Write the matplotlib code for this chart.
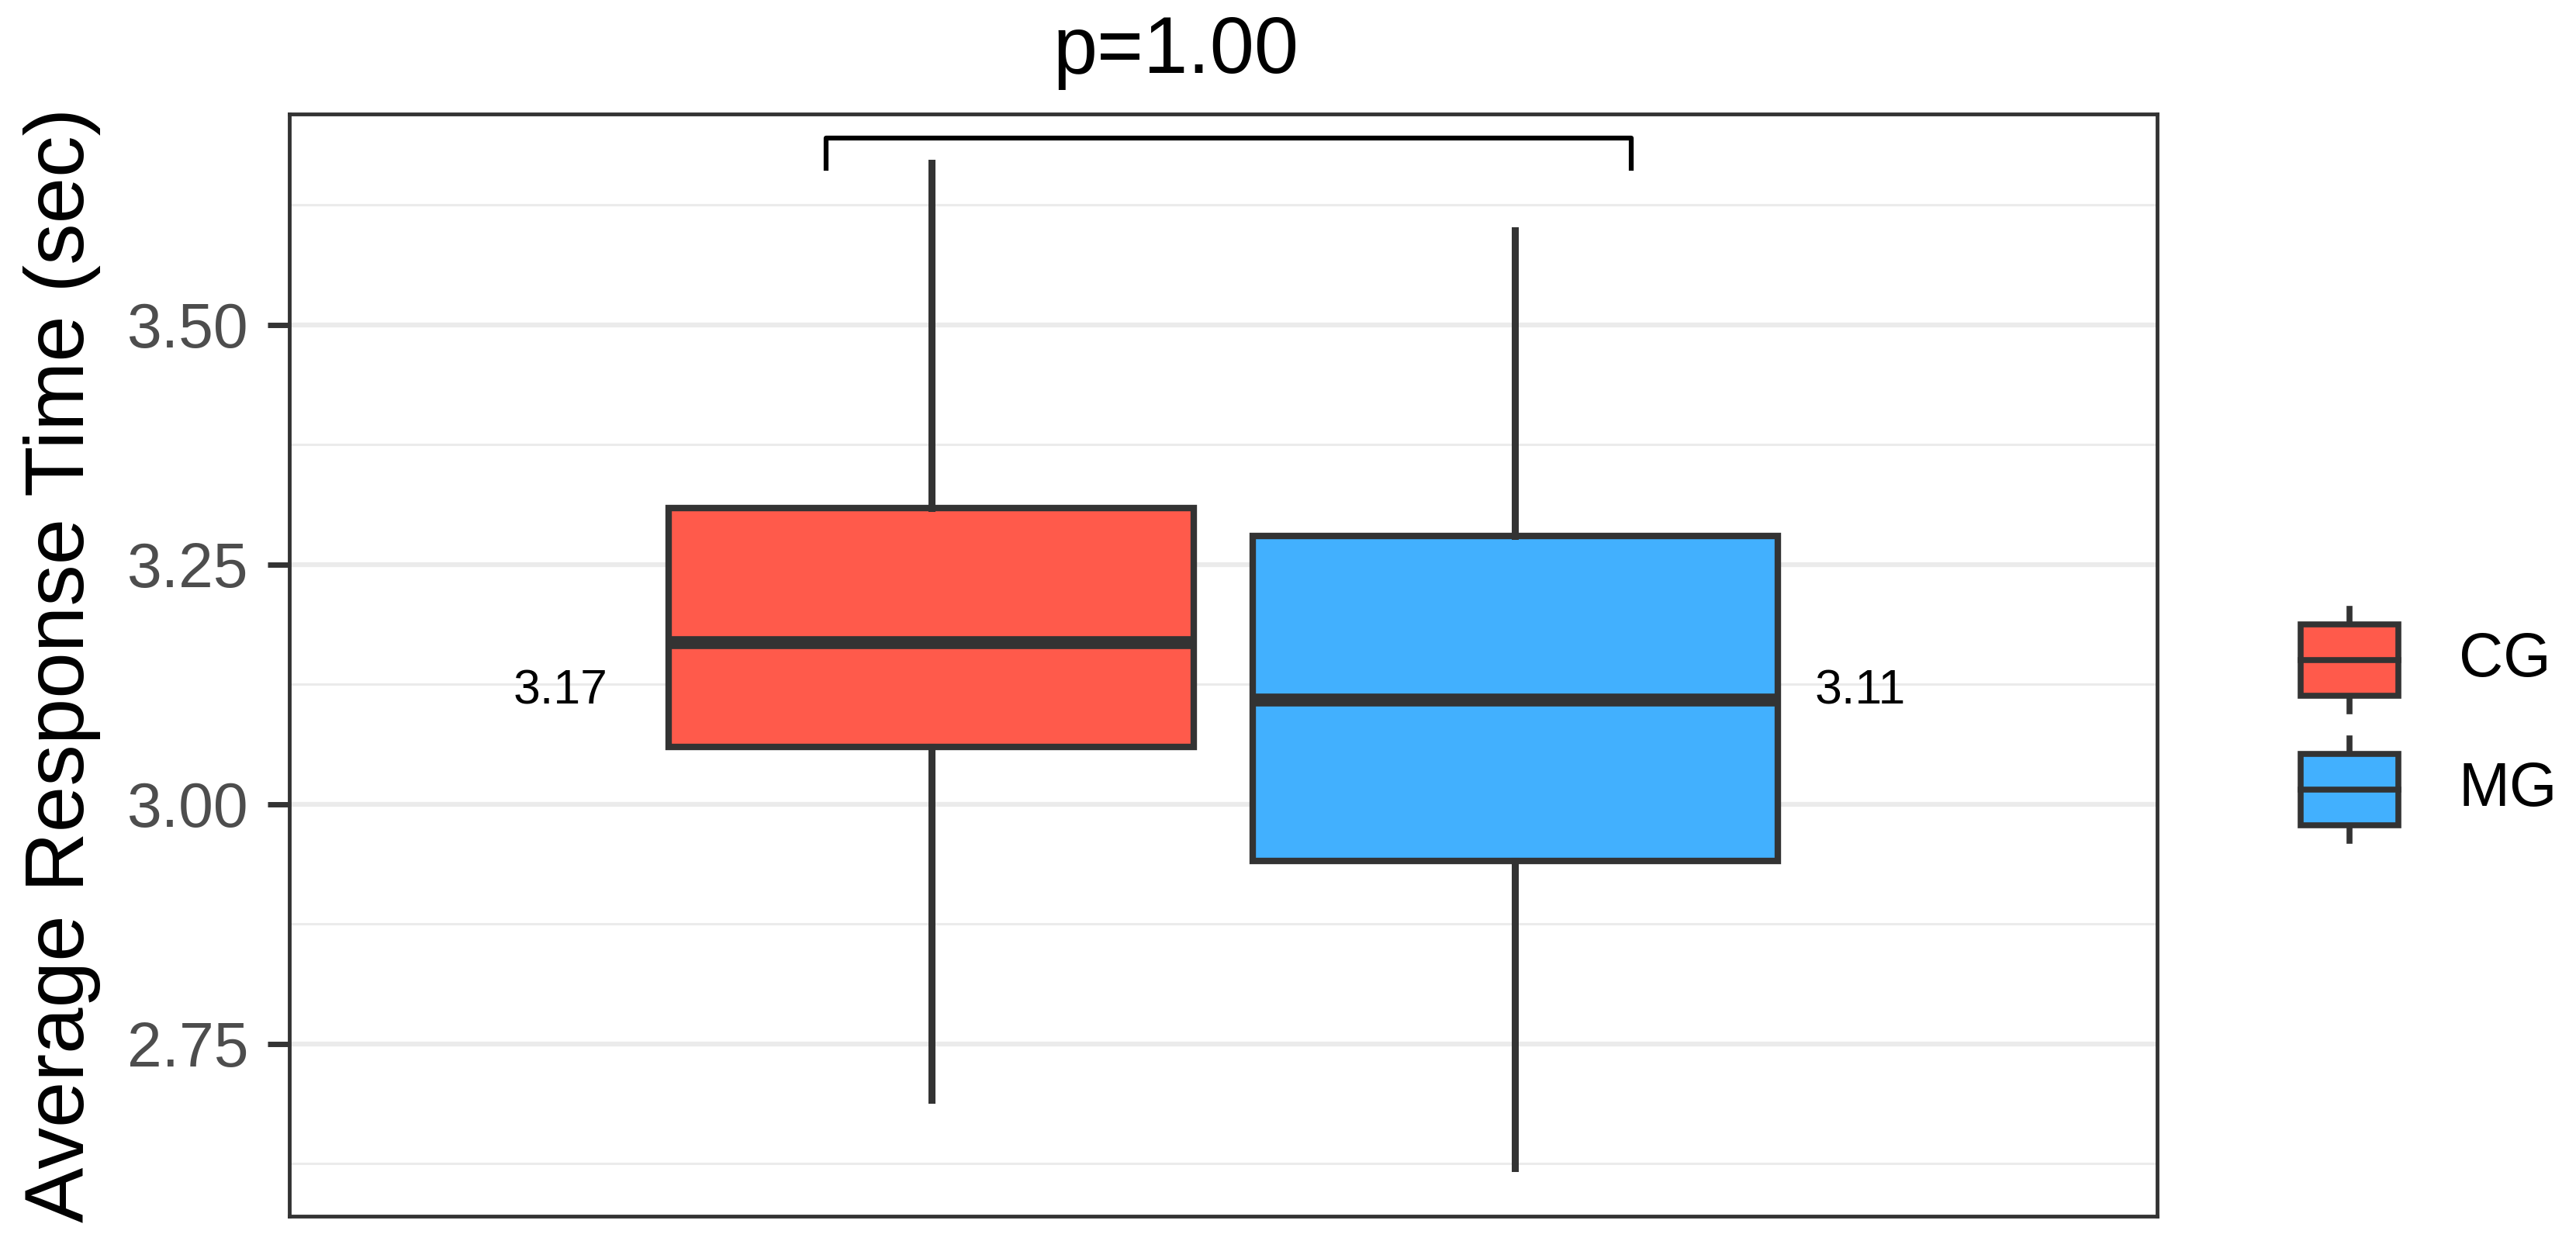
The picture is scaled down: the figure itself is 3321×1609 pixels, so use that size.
import matplotlib
matplotlib.use("Agg")
import matplotlib.pyplot as plt
from matplotlib.patches import Rectangle

plt.rcParams['font.family'] = ['Liberation Sans', 'DejaVu Sans']

# Werte
groups = ['CG', 'MG']
colors = ['#FF5A4B', '#42B0FE']
whisker_low = [2.691, 2.620]
q1 = [3.060, 2.941]
medians = [3.169, 3.109]
q3 = [3.309, 3.280]
whisker_high = [3.669, 3.599]
median_labels = ['3.17', '3.11']
p_text = 'p=1.00'

edge = '#333333'
W, H = 3321, 1609
fig = plt.figure(figsize=(W / 100, H / 100), dpi=100)
ax = fig.add_axes([373 / W, 1 - 1568 / H, (2781 - 373) / W, (1568 - 147) / H])

positions = [0.8125, 1.1875]
stats = []
for i in range(len(groups)):
    stats.append({'whislo': whisker_low[i], 'q1': q1[i], 'med': medians[i],
                  'q3': q3[i], 'whishi': whisker_high[i], 'label': groups[i]})

bp = ax.bxp(stats, positions=positions, widths=0.3375, patch_artist=True,
            showfliers=False, showcaps=False,
            boxprops=dict(edgecolor=edge, linewidth=6),
            whiskerprops=dict(color=edge, linewidth=6.5),
            medianprops=dict(color=edge, linewidth=12, solid_capstyle='butt'),
            zorder=3)
for patch, c in zip(bp['boxes'], colors):
    patch.set_facecolor(c)

ax.set_xlim(0.4, 1.6)
ax.set_ylim(2.570, 3.720)
ax.set_xticks([])
ax.set_yticks([2.75, 3.00, 3.25, 3.50])
ax.set_yticklabels(['2.75', '3.00', '3.25', '3.50'])
ax.set_yticks([2.625, 2.875, 3.125, 3.375, 3.625], minor=True)
ax.tick_params(axis='y', which='major', length=20, width=5, color=edge,
               labelsize=58, labelcolor='#4D4D4D', pad=18)
ax.tick_params(axis='y', which='minor', length=0)
ax.grid(True, which='major', axis='y', color='#EBEBEB', linewidth=4.5, zorder=0)
ax.grid(True, which='minor', axis='y', color='#EBEBEB', linewidth=2.2, zorder=0)
ax.set_axisbelow(True)
for s in ax.spines.values():
    s.set_color(edge)
    s.set_linewidth(3.5)

ax.set_ylabel('Average Response Time (sec)', fontsize=77, color='black', labelpad=24)

# Medianwerte als Text
ax.text(0.574, 3.118, median_labels[0], fontsize=45, ha='center', va='center', color='black')
ax.text(1.409, 3.118, median_labels[1], fontsize=45, ha='center', va='center', color='black')

# Klammer mit p-Wert
ax.plot([0.745, 0.745, 1.262, 1.262], [3.663, 3.695, 3.695, 3.663],
        color='black', linewidth=4.5, clip_on=False, zorder=4)
fig.text(1516 / W, 1 - 68 / H, p_text, fontsize=74, ha='center', va='center')

# Legende von Hand gezeichnet
lg = fig.add_axes([0, 0, 1, 1], facecolor='none')
lg.set_xlim(0, W)
lg.set_ylim(H, 0)
lg.axis('off')
key_tops = [805, 972]
for i in range(len(groups)):
    top = key_tops[i]
    bot = top + 92
    lg.plot([3029, 3029], [top - 20, bot + 20], color=edge, linewidth=5.5, zorder=1)
    lg.add_patch(Rectangle((2966, top), 126, 92, facecolor=colors[i],
                           edgecolor=edge, linewidth=5.5, zorder=2))
    lg.plot([2966, 3092], [(top + bot) / 2] * 2, color=edge, linewidth=5.5, zorder=3)
    lg.text(3170, (top + bot) / 2, groups[i], fontsize=57, ha='left', va='center')

fig.savefig('out.png', dpi=100)
